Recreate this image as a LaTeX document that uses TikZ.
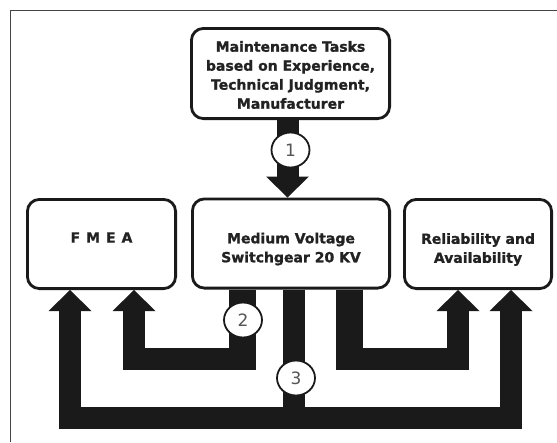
\documentclass[tikz,border=0pt]{standalone}
\usepackage{fontspec}
\setmainfont{DejaVu Sans}
\usetikzlibrary{calc,shapes.geometric}
\definecolor{ink}{HTML}{1A1A1A}
\definecolor{txt}{HTML}{222222}
\definecolor{framec}{HTML}{454545}
\definecolor{numgray}{HTML}{555555}
% helper for an arrow head: tip at #1, pointing up (#2 = -1) or down (#2 = 1)
\newcommand\headat[2]{\fill[ink] (#1) -- ++(-21.5,-21*#2) -- ++(43,0) -- cycle;}
% invisible strut that lowers the text block inside a box
\newcommand\toppad[1]{\rule{0pt}{#1}}
\begin{document}
\begin{tikzpicture}[x=1pt,y=-1pt,
  box/.style={draw=ink, line width=2.8pt, rounded corners=12pt, fill=white,
    inner sep=0pt, align=center, text=txt,
    font=\fontsize{14}{19}\selectfont\bfseries\addfontfeature{FakeBold=1.2}},
  badge/.style={ellipse, draw=ink, line width=1.8pt, fill=white, inner sep=0pt,
    minimum width=38pt, minimum height=35pt, text=numgray,
    font=\fontsize{17}{17}\selectfont},
  flow/.style={draw=ink, line width=22pt, line join=miter, line cap=butt},
  drop/.style={flow, line width=27pt}]
\useasboundingbox (0,0) rectangle (557,442);
% page frame (top and left rules)
\draw[framec, line width=1.6pt] (10.5,442) -- (10.5,10.5) -- (557,10.5);

% boxes
\node[box, minimum width=198.2pt, minimum height=90.2pt] (top) at (290.5,73.5)
  {\toppad{13.6pt}Maintenance Tasks\\based on Experience,\\Technical Judgment,\\Manufacturer};
\node[box, minimum width=197.2pt, minimum height=89.2pt] (mid) at (291,243.5)
  {\toppad{21.6pt}Medium Voltage\\Switchgear 20 KV};
\node[box, minimum width=148.2pt, minimum height=89.2pt] (fmea) at (101.5,244)
  {\toppad{16.2pt}F\hspace{6pt}M\hspace{6pt}E\hspace{6pt}A\\\mbox{}};
\node[box, minimum width=147.2pt, minimum height=89.2pt] (rel) at (478,244)
  {\toppad{21.6pt}Reliability and\\Availability};

% 1: tasks -> switchgear
\draw[flow] ($(top.south)+(-3,0)$) -- ($(mid.north)+(-3.5,-21)$);
\headat{$(mid.north)+(-3.5,0)$}{1}

% 2: switchgear -> FMEA (inner)
\draw[drop] ($(mid.south)+(-48.5,0)$) -- ++(0,80);
\draw[flow] ($(mid.south)+(-36,69)$) -| ($(fmea.south)+(32.5,21)$);
\headat{$(fmea.south)+(32.5,0)$}{-1}

% switchgear -> reliability (inner)
\draw[drop] ($(mid.south)+(58.5,0)$) -- ++(0,80);
\draw[flow] ($(mid.south)+(71,69)$) -| ($(rel.south)+(-20,21)$);
\headat{$(rel.south)+(-20,0)$}{-1}

% 3: switchgear -> both (outer bus)
\coordinate (bus) at ($(mid.south)+(2.5,128)$);
\draw[flow] ($(mid.south)+(2.5,0)$) -- (bus);
\draw[flow] ($(fmea.south)+(-31.5,21)$) |- (bus) -| ($(rel.south)+(33,21)$);
\headat{$(fmea.south)+(-31.5,0)$}{-1}
\headat{$(rel.south)+(33,0)$}{-1}

% step numbers
\node[badge] (n1) at (290.5,150) {1};
\node[badge] (n2) at (243,320) {2};
\node[badge] (n3) at (296,378) {3};
\end{tikzpicture}
\end{document}
